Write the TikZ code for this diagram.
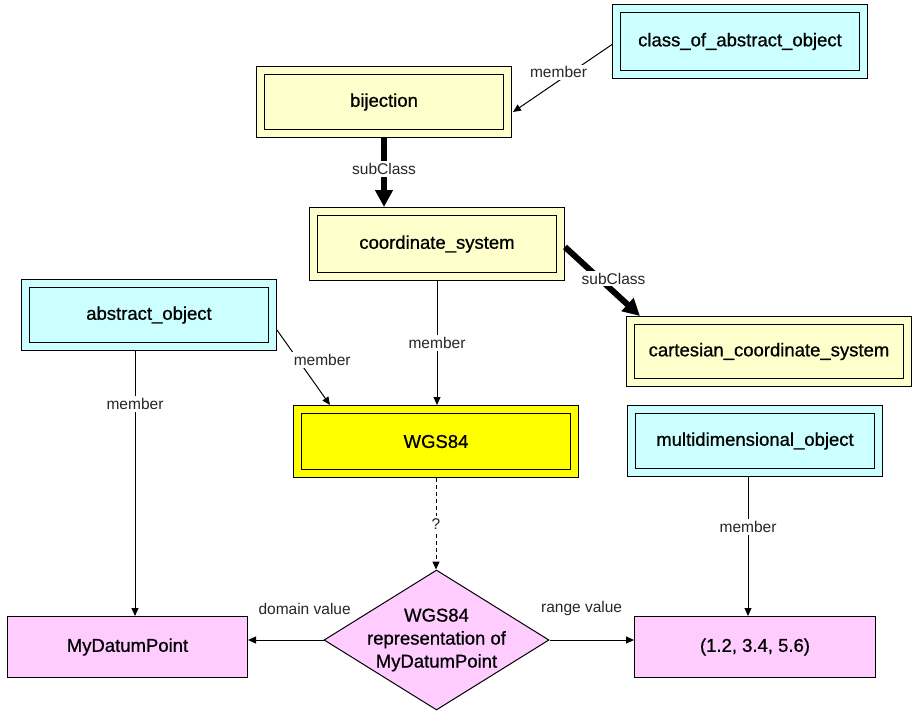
\documentclass[tikz,border=0pt]{standalone}
\usepackage{fontspec}
\setmainfont{Liberation Sans}
\newfontfamily\boxff{Liberation Sans}[FakeBold=0.8]
\usetikzlibrary{arrows.meta,shapes.geometric,calc}
\definecolor{cyanbox}{HTML}{CCFFFF}
\definecolor{ylwbox}{HTML}{FFFFCC}
\definecolor{brightylw}{HTML}{FFFF00}
\definecolor{pinkbox}{HTML}{FFCCFF}
\begin{document}
\begin{tikzpicture}[x=1pt,y=-1pt,
  boxfont/.style={font=\boxff\fontsize{18.5}{23}\selectfont},
  dblbox/.style={rectangle, draw=black, line width=1pt, double distance=7pt,
    inner sep=0pt, outer sep=4.5pt, boxfont},
  cbox/.style={dblbox, fill=cyanbox, double=cyanbox},
  ybox/.style={dblbox, fill=ylwbox, double=ylwbox},
  bybox/.style={dblbox, fill=brightylw, double=brightylw},
  pbox/.style={rectangle, draw=black, line width=1pt, fill=pinkbox,
    inner sep=0pt, outer sep=0.5pt, boxfont},
  dianode/.style={diamond, draw=black, line width=1pt, fill=pinkbox,
    inner sep=0pt, minimum width=225pt, minimum height=140pt},
  lbl/.style={fill=white, inner sep=2pt, text=black!85,
    font=\fontsize{15.5}{18}\selectfont},
  thinarr/.style={draw=black, line width=1pt, -{Triangle[length=8pt,width=7pt]}},
  dasharr/.style={thinarr, dash pattern=on 4pt off 3pt},
  thickarr/.style={draw=black, line width=6pt, -{Triangle[length=17pt,width=17pt]}}
]
\useasboundingbox (0,0) rectangle (917,720);

% nodes
\node[cbox, minimum width=247pt, minimum height=66pt] (coa) at (740,41.5) {class\_of\_abstract\_object};
\node[ybox, minimum width=247pt, minimum height=63pt] (bij) at (384,102) {bijection};
\node[ybox, minimum width=247pt, minimum height=65pt] (cs) at (437,244) {coordinate\_system};
\node[cbox, minimum width=247pt, minimum height=63pt] (ao) at (149,315) {abstract\_object};
\node[ybox, minimum width=277pt, minimum height=62pt] (ccs) at (769,351.5) {cartesian\_coordinate\_system};
\node[bybox, minimum width=277pt, minimum height=64pt] (wgs) at (436,441.5) {WGS84};
\node[cbox, minimum width=247pt, minimum height=63pt] (mdo) at (755,441) {multidimensional\_object};
\node[pbox, minimum width=240pt, minimum height=61pt] (mdp) at (127.5,647) {MyDatumPoint};
\node[pbox, minimum width=241pt, minimum height=61pt] (tup) at (755,647) {(1.2, 3.4, 5.6)};
\node[dianode] (dia) at (436.5,640) {};
\node[boxfont, align=center, inner sep=0pt] (diat) at (dia.center) {WGS84\\representation of\\MyDatumPoint};

% connectors
\draw[thinarr] ($(coa.west)+(0,3)$) -- node[lbl, pos=0.5, xshift=-4pt, yshift=6pt]{member} ($(bij.east)+(1,10)$);
\draw[thickarr] (bij.south) -- node[lbl, pos=0.45]{subClass} (bij.south |- cs.north);
\draw[thickarr] ($(cs.east)+(0,3)$) -- node[lbl, pos=0.5, xshift=11pt, yshift=3pt]{subClass} ($(ccs.north west)+(14,0)$);
\draw[thinarr] (cs.south) -- node[lbl, pos=0.5]{member} (cs.south |- wgs.north);
\draw[thinarr] ($(ao.east)+(0,15)$) -- node[lbl, pos=0.4, xshift=24pt]{member} ($(wgs.north west)+(37,0)$);
\draw[thinarr] ($(ao.south)+(-14,0)$) -- node[lbl, pos=0.2]{member} ($(mdp.north)+(7.5,0)$);
\draw[dasharr] (wgs.south) -- node[lbl, pos=0.5]{?} (wgs.south |- dia.north);
\draw[thinarr] (dia.west) -- node[lbl, pos=0.25, yshift=31pt]{domain value} (dia.west -| mdp.east);
\draw[thinarr] (dia.east) -- node[lbl, pos=0.38, yshift=32pt]{range value} (dia.east -| tup.west);
\draw[thinarr] ($(mdo.south)+(-7,0)$) -- node[lbl, pos=0.36]{member} ($(tup.north)+(-7,0)$);
\end{tikzpicture}
\end{document}
